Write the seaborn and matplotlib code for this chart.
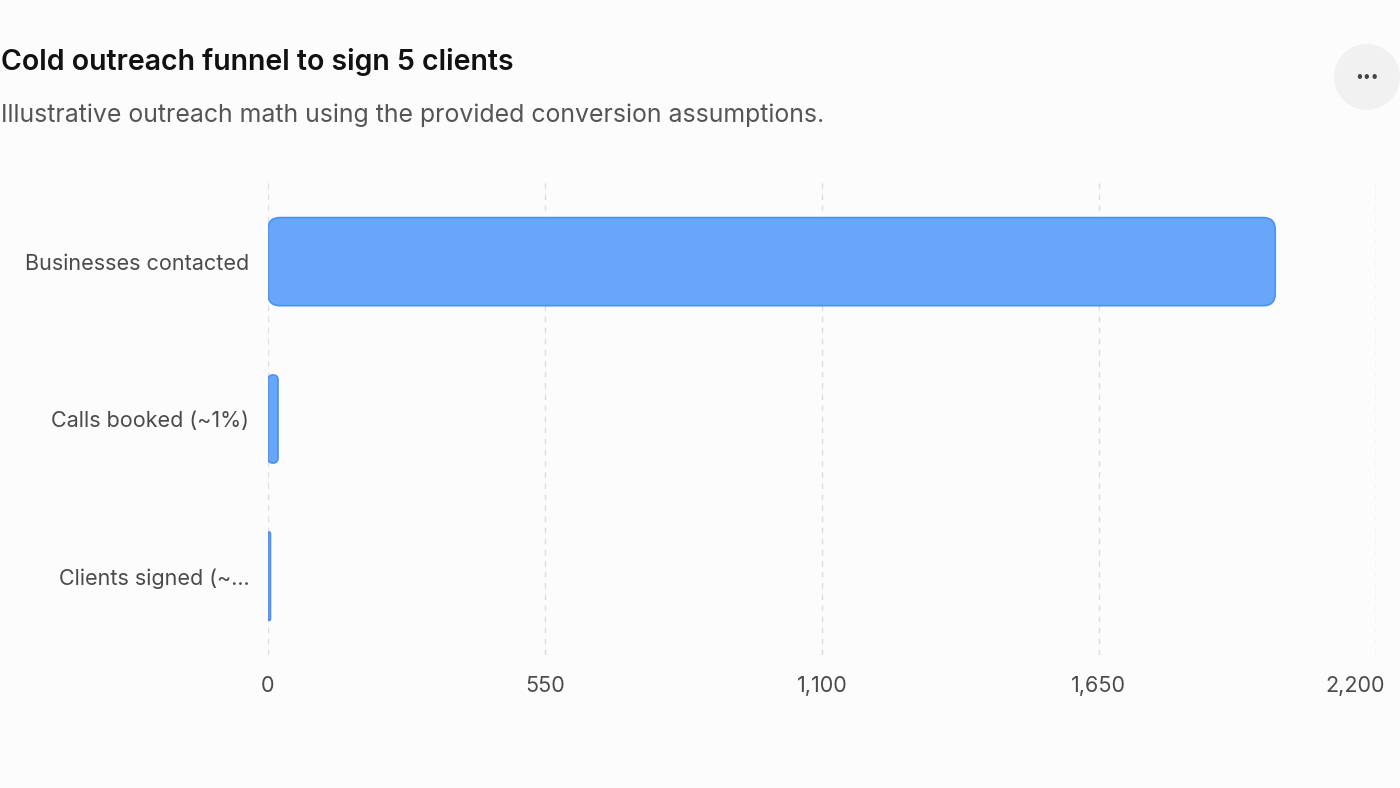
import matplotlib
matplotlib.use("Agg")
import matplotlib.pyplot as plt
import matplotlib.transforms as mtransforms
import seaborn as sns
import pandas as pd
from matplotlib.patches import FancyBboxPatch, Circle

# data
stages = ["Businesses contacted", "Calls booked (~1%)", "Clients signed (~..."]
counts = [2000, 20, 5]
x_ticks = [0, 550, 1100, 1650, 2200]
x_tick_labels = ["0", "550", "1,100", "1,650", "2,200"]

df = pd.DataFrame({"stage": stages, "count": counts})

sns.set_style("white")
plt.rcParams["font.family"] = ["Inter", "DejaVu Sans"]

bg = "#fcfcfc"
fill = "#67a6f8"
edge = "#4a92f4"

fig = plt.figure(figsize=(14, 7.88), dpi=100, facecolor=bg)
ax = fig.add_axes([0.1914, 0.1688, 0.7914, 0.599])
ax.set_facecolor(bg)

sns.barplot(data=df, x="count", y="stage", orient="h", color=fill,
            width=0.56, ax=ax)

ax.set_xlim(0, 2200)
ax.set_ylim(2.5, -0.5)
ax.set_xticks(x_ticks)
ax.set_xticklabels(x_tick_labels)
ax.set_xlabel("")
ax.set_ylabel("")

# swap plain bars for rounded ones
fig.canvas.draw()
sx = ax.transData.transform((1, 0))[0] - ax.transData.transform((0, 0))[0]
sy = abs(ax.transData.transform((0, 1))[1] - ax.transData.transform((0, 0))[1])
for p in list(ax.patches):
    x0, y0 = p.get_x(), p.get_y()
    w, h = p.get_width(), p.get_height()
    p.remove()
    r_px = min(12, w * sx / 2, h * sy / 2)
    r_px = max(r_px, 1.5)
    rb = FancyBboxPatch((x0, y0), w, h,
                        boxstyle=f"round,pad=0,rounding_size={r_px / sx}",
                        mutation_aspect=sx / sy,
                        facecolor=fill, edgecolor=edge, linewidth=1.2,
                        zorder=3)
    ax.add_patch(rb)

ax.grid(axis="x", color="#dcdcdc", linestyle=(0, (4, 4)), linewidth=1)
ax.grid(axis="y", visible=False)
for s in ax.spines.values():
    s.set_visible(False)
ax.tick_params(axis="both", length=0, labelsize=15.5, labelcolor="#4a4a4a")
ax.tick_params(axis="x", pad=15)
ax.tick_params(axis="y", pad=13.5)

# last x label is pulled in so it stays inside the figure
last = ax.get_xticklabels()[-1]
last.set_transform(last.get_transform() +
                   mtransforms.ScaledTranslation(-0.21, 0, fig.dpi_scale_trans))

fig.text(0.0005, 0.9215, "Cold outreach funnel to sign 5 clients",
         fontsize=20.5, fontweight="semibold", color="#111111", va="center")
fig.text(0.0005, 0.8535,
         "Illustrative outreach math using the provided conversion assumptions.",
         fontsize=17.9, color="#555555", va="center")

# menu button
btn = Circle((13.67, 7.88 - 0.77), 0.33, transform=fig.dpi_scale_trans,
             facecolor="#f1f1f1", edgecolor="none")
fig.patches.append(btn)
fig.text(1367 / 1400, 1 - 77 / 788, "\u2022\u2022\u2022", fontsize=10,
         color="#444444", ha="center", va="center")

fig.savefig("out.png", dpi=100, facecolor=bg)
